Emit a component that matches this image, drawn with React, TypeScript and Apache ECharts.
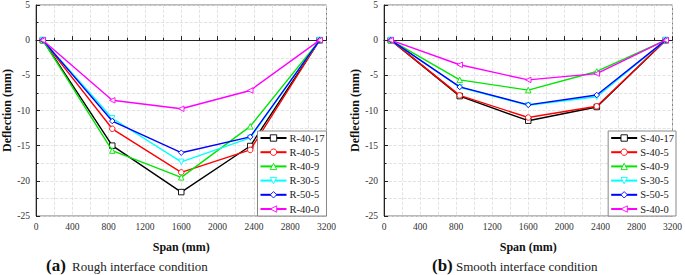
import React, { useEffect, useRef } from "react";
import * as echarts from "echarts";

const spanPositions = [75, 840, 1600, 2360, 3125];

const roughNames = ["R-40-17", "R-40-5", "R-40-9", "R-30-5", "R-50-5", "R-40-0"];
const r40_17 = [0, -15.0, -21.6, -15.05, 0];
const r40_5 = [0, -12.6, -18.8, -15.6, 0];
const r40_9 = [0, -15.7, -19.5, -12.25, 0];
const r30_5 = [0, -11.1, -17.3, -13.9, 0];
const r50_5 = [0, -11.5, -16.0, -13.75, 0];
const r40_0 = [0, -8.55, -9.75, -7.15, 0];
const roughValues = [r40_17, r40_5, r40_9, r30_5, r50_5, r40_0];

const smoothNames = ["S-40-17", "S-40-5", "S-40-9", "S-30-5", "S-50-5", "S-40-0"];
const s40_17 = [0, -7.95, -11.45, -9.5, 0];
const s40_5 = [0, -7.85, -11.0, -9.4, 0];
const s40_9 = [0, -5.65, -7.1, -4.45, 0];
const s30_5 = [0, -6.7, -9.25, -8.05, 0];
const s50_5 = [0, -6.65, -9.2, -7.8, 0];
const s40_0 = [0, -3.5, -5.65, -4.75, 0];
const smoothValues = [s40_17, s40_5, s40_9, s30_5, s50_5, s40_0];

const colors = ["#000000", "#ff0000", "#00e600", "#00ffff", "#0000ff", "#ff00ff"];
const symbols = ["rect", "circle", "triangle", "triangle", "diamond", "triangle"];
const rotations = [0, 0, 0, 180, 0, 90];

const FONT = "Liberation Serif";

function makeAxes(gridIndex: number) {
  const x = {
    type: "value",
    gridIndex,
    min: 0,
    max: 3200,
    interval: 400,
    name: "Span (mm)",
    nameLocation: "middle",
    nameGap: 25,
    nameTextStyle: { fontFamily: FONT, fontWeight: "bold", fontSize: 12, color: "#111" },
    axisLine: { show: true, lineStyle: { color: "#222", width: 1 } },
    axisTick: { show: true, inside: true, length: 4, lineStyle: { color: "#222" } },
    minorTick: { show: true, splitNumber: 2, length: 2.5, lineStyle: { color: "#222" } },
    axisLabel: {
      fontFamily: FONT,
      fontSize: 9.5,
      color: "#333",
      margin: 6,
      formatter: (v: number) => String(v),
    },
    splitLine: { show: true, lineStyle: { color: "#dcdcdc", type: "dashed", width: 0.8 } },
    minorSplitLine: { show: true, lineStyle: { color: "#dcdcdc", type: "dashed", width: 0.8 } },
  };
  const y = {
    type: "value",
    gridIndex,
    min: -25,
    max: 5,
    interval: 5,
    name: "Deflection (mm)",
    nameLocation: "middle",
    nameGap: 23,
    nameTextStyle: { fontFamily: FONT, fontWeight: "bold", fontSize: 12, color: "#111" },
    axisLine: { show: true, lineStyle: { color: "#222", width: 1 } },
    axisTick: { show: true, inside: true, length: 4, lineStyle: { color: "#222" } },
    minorTick: { show: true, splitNumber: 2, length: 2.5, lineStyle: { color: "#222" } },
    axisLabel: { fontFamily: FONT, fontSize: 9.5, color: "#333", margin: 6 },
    splitLine: { show: true, lineStyle: { color: "#dcdcdc", type: "dashed", width: 0.8 } },
    minorSplitLine: { show: true, lineStyle: { color: "#dcdcdc", type: "dashed", width: 0.8 } },
  };
  return { x, y };
}

function makeSeries(names: string[], values: number[][], idx: number) {
  return names.map((name, i) => ({
    type: "line",
    name,
    xAxisIndex: idx,
    yAxisIndex: idx,
    color: colors[i],
    data: values[i].map((v, j) => [spanPositions[j], v]),
    symbol: symbols[i],
    symbolRotate: rotations[i],
    symbolSize: 5.5,
    showAllSymbol: true,
    lineStyle: { color: colors[i], width: 1.4 },
    itemStyle: { color: "#ffffff", borderColor: colors[i], borderWidth: 0.9 },
    z: 2 + i,
  }));
}

function makeLegend(names: string[], right: number) {
  return {
    data: names,
    orient: "vertical",
    right,
    bottom: 59,
    padding: [1, 2, 1, 2],
    itemWidth: 26,
    itemHeight: 8,
    itemGap: 2.2,
    backgroundColor: "#ffffff",
    borderColor: "#888888",
    borderWidth: 1,
    borderRadius: 0,
    symbolRotate: "inherit",
    itemStyle: { color: "#ffffff", borderColor: "inherit", borderWidth: 0.9 },
    textStyle: { fontFamily: FONT, fontSize: 10.5, color: "#222", lineHeight: 12, padding: [0, 0, 0, -2] },
  };
}

export default function App() {
  const ref = useRef<HTMLDivElement>(null);
  useEffect(() => {
    if (!ref.current) return;
    const chart = echarts.init(ref.current, undefined, { renderer: "svg" });
    const a0 = makeAxes(0);
    const a1 = makeAxes(1);
    chart.setOption({
      animation: false,
      backgroundColor: "#ffffff",
      grid: [
        { left: 36, top: 4, width: 290.5, height: 212, show: true, borderColor: "#777", borderWidth: 1 },
        { left: 384, top: 4, width: 292, height: 212, show: true, borderColor: "#777", borderWidth: 1 },
      ],
      xAxis: [a0.x, a1.x],
      yAxis: [a0.y, a1.y],
      legend: [makeLegend(roughNames, 685 - 326.5), makeLegend(smoothNames, 685 - 676)],
      series: [...makeSeries(roughNames, roughValues, 0), ...makeSeries(smoothNames, smoothValues, 1)],
      graphic: [
        {
          type: "text",
          left: 46,
          top: 257,
          style: { text: "(a)", fontFamily: FONT, fontWeight: "bold", fontSize: 17, fill: "#111" },
        },
        {
          type: "text",
          left: 72,
          top: 260,
          style: { text: "Rough interface condition", fontFamily: FONT, fontSize: 13, fill: "#222" },
        },
        {
          type: "text",
          left: 432,
          top: 257,
          style: { text: "(b)", fontFamily: FONT, fontWeight: "bold", fontSize: 17, fill: "#111" },
        },
        {
          type: "text",
          left: 456,
          top: 260,
          style: { text: "Smooth interface condition", fontFamily: FONT, fontSize: 13, fill: "#222" },
        },
      ],
    });
    return () => chart.dispose();
  }, []);
  return (
    <div
      ref={ref}
      style={{ position: "fixed", left: 0, top: 0, width: 685, height: 275, background: "#fff" }}
    />
  );
}
